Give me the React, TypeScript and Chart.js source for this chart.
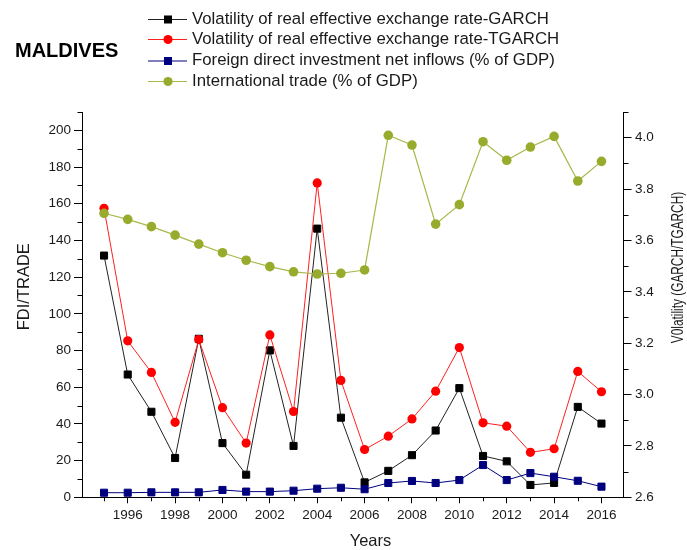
import React, { useEffect, useRef } from "react";
import { Chart, registerables } from "chart.js";

Chart.register(...registerables);

const years = [1995, 1996, 1997, 1998, 1999, 2000, 2001, 2002, 2003, 2004, 2005, 2006, 2007, 2008, 2009, 2010, 2011, 2012, 2013, 2014, 2015, 2016];
const garch = [3.541, 3.078, 2.933, 2.753, 3.217, 2.811, 2.688, 3.172, 2.8, 3.646, 2.91, 2.658, 2.703, 2.764, 2.86, 3.025, 2.761, 2.74, 2.648, 2.656, 2.952, 2.887];
const tgarch = [3.725, 3.209, 3.086, 2.892, 3.214, 2.949, 2.811, 3.232, 2.934, 3.824, 3.055, 2.786, 2.838, 2.905, 3.013, 3.183, 2.89, 2.877, 2.775, 2.789, 3.09, 3.011];
const fdi = [2.5, 2.5, 2.7, 2.7, 2.7, 4.0, 3.1, 3.1, 3.6, 4.7, 5.2, 4.4, 7.8, 8.9, 7.8, 9.4, 17.6, 9.4, 13.2, 11.2, 9.0, 5.8];
const trade = [154.8, 151.5, 147.5, 142.9, 138.0, 133.3, 129.2, 125.7, 122.9, 121.7, 122.1, 123.9, 197.3, 192.0, 148.9, 159.5, 193.8, 183.7, 190.9, 196.7, 172.4, 183.1];

const seriesNames = [
  "Volatility of real effective exchange rate-GARCH",
  "Volatility of real effective exchange rate-TGARCH",
  "Foreign direct investment net inflows (% of GDP)",
  "International trade (% of GDP)",
];
const titleText = "MALDIVES";
const xTitle = "Years";
const yLeftTitle = "FDI/TRADE";
const yRightTitle = "V0latility (GARCH/TGARCH)";

const FONT = '"Liberation Sans", Arial, sans-serif';
const TEXT = "#1a1a1a";

const styles = [
  { line: "#222222", point: "#000000", shape: "rect" },
  { line: "#ff2020", point: "#ff0000", shape: "circle" },
  { line: "#00007f", point: "#00007f", shape: "rect" },
  { line: "#a8b84a", point: "#98ab2c", shape: "circle" },
];

function drawMarker(ctx: CanvasRenderingContext2D, shape: string, x: number, y: number, color: string) {
  ctx.fillStyle = color;
  if (shape === "rect") {
    ctx.fillRect(x - 4, y - 4, 8, 8);
  } else {
    ctx.beginPath();
    ctx.arc(x, y, 4.6, 0, Math.PI * 2);
    ctx.fill();
  }
}

const decorPlugin = {
  id: "decor",
  afterDraw(chart: any) {
    const ctx: CanvasRenderingContext2D = chart.ctx;
    ctx.save();
    // minor ticks
    ctx.strokeStyle = "#000";
    ctx.lineWidth = 1;
    const sx = chart.scales.x;
    const sy = chart.scales.y;
    const sy1 = chart.scales.y1;
    sx.ticks.forEach((t: any) => {
      if (Math.round(t.value) % 2 !== 0) {
        const px = Math.round(sx.getPixelForValue(t.value)) + 0.5;
        ctx.beginPath();
        ctx.moveTo(px, sx.top);
        ctx.lineTo(px, sx.top + 4);
        ctx.stroke();
      }
    });
    sy.ticks.forEach((t: any) => {
      if (Math.round(t.value) % 20 !== 0) {
        const py = Math.round(sy.getPixelForValue(t.value)) + 0.5;
        ctx.beginPath();
        ctx.moveTo(sy.right, py);
        ctx.lineTo(sy.right - 4.5, py);
        ctx.stroke();
      }
    });
    sy1.ticks.forEach((t: any) => {
      if (Math.round(t.value * 10) % 2 !== 0) {
        const py = Math.round(sy1.getPixelForValue(t.value)) + 0.5;
        ctx.beginPath();
        ctx.moveTo(sy1.left, py);
        ctx.lineTo(sy1.left + 5, py);
        ctx.stroke();
      }
    });

    // title
    ctx.fillStyle = "#000";
    ctx.font = `bold 20px ${FONT}`;
    ctx.textAlign = "left";
    ctx.textBaseline = "alphabetic";
    ctx.fillText(titleText, 15, 57);

    // legend
    const rowsY = [19, 39, 60.5, 81];
    seriesNames.forEach((name, i) => {
      const y = rowsY[i];
      const st = styles[i];
      ctx.strokeStyle = st.line;
      ctx.lineWidth = 1;
      ctx.beginPath();
      ctx.moveTo(148, y + 0.5);
      ctx.lineTo(187, y + 0.5);
      ctx.stroke();
      drawMarker(ctx, st.shape, 168, y + 0.5, st.point);
      ctx.fillStyle = TEXT;
      ctx.font = `16.8px ${FONT}`;
      ctx.textAlign = "left";
      ctx.textBaseline = "middle";
      ctx.fillText(name, 192, y);
    });

    // axis titles
    ctx.fillStyle = TEXT;
    ctx.font = `16.5px ${FONT}`;
    ctx.textAlign = "center";
    ctx.textBaseline = "alphabetic";
    ctx.fillText(xTitle, 370.5, 546);

    ctx.save();
    ctx.translate(24.5, 286.7);
    ctx.rotate(-Math.PI / 2);
    ctx.textBaseline = "middle";
    ctx.fillText(yLeftTitle, 0, 0);
    ctx.restore();

    ctx.save();
    ctx.translate(678.5, 267.5);
    ctx.rotate(-Math.PI / 2);
    ctx.scale(0.74, 1);
    ctx.font = `16px ${FONT}`;
    ctx.textBaseline = "middle";
    ctx.fillText(yRightTitle, 0, 0);
    ctx.restore();

    ctx.restore();
  },
};

export default function App() {
  const ref = useRef<HTMLCanvasElement | null>(null);
  useEffect(() => {
    if (!ref.current) return;
    const mk = (vals: number[]) => years.map((x, i) => ({ x, y: vals[i] }));
    const tickFont = { family: FONT, size: 13.5 };
    const chart = new Chart(ref.current, {
      type: "line",
      data: {
        datasets: [
          {
            label: seriesNames[0], data: mk(garch), yAxisID: "y1", order: 4,
            borderColor: styles[0].line, borderWidth: 1, pointStyle: "rect", pointRadius: 5,
            pointBackgroundColor: styles[0].point, pointBorderColor: styles[0].point, pointBorderWidth: 1,
          },
          {
            label: seriesNames[1], data: mk(tgarch), yAxisID: "y1", order: 3,
            borderColor: styles[1].line, borderWidth: 1, pointStyle: "circle", pointRadius: 4.6,
            pointBackgroundColor: styles[1].point, pointBorderColor: styles[1].point, pointBorderWidth: 0,
          },
          {
            label: seriesNames[2], data: mk(fdi), yAxisID: "y", order: 2,
            borderColor: styles[2].line, borderWidth: 1, pointStyle: "rect", pointRadius: 5,
            pointBackgroundColor: styles[2].point, pointBorderColor: styles[2].point, pointBorderWidth: 1,
          },
          {
            label: seriesNames[3], data: mk(trade), yAxisID: "y", order: 1,
            borderColor: styles[3].line, borderWidth: 1.2, pointStyle: "circle", pointRadius: 4.8,
            pointBackgroundColor: styles[3].point, pointBorderColor: styles[3].point, pointBorderWidth: 0,
          },
        ],
      },
      options: {
        responsive: false,
        devicePixelRatio: 1,
        animation: false,
        events: [],
        layout: { padding: { top: 112, left: 0, right: 0, bottom: 0 } },
        plugins: { legend: { display: false }, title: { display: false }, tooltip: { enabled: false } },
        elements: { line: { tension: 0 } },
        scales: {
          x: {
            type: "linear",
            position: "bottom",
            min: 1994.07,
            max: 2016.93,
            afterFit: (s: any) => { s.height = 52.7; },
            border: { display: true, color: "#000", width: 1 },
            grid: {
              display: true, drawOnChartArea: false, tickLength: 6,
              tickColor: (c: any) => (Math.round(c.tick?.value ?? 0) % 2 === 0 ? "#000" : "rgba(0,0,0,0)"),
            },
            ticks: {
              stepSize: 1, autoSkip: false, includeBounds: false, maxRotation: 0, padding: 3.5,
              color: TEXT, font: tickFont,
              callback: (v: any) => (Math.round(v) % 2 === 0 ? String(Math.round(v)) : ""),
            },
          },
          y: {
            type: "linear",
            position: "left",
            min: 0,
            max: 210,
            afterFit: (s: any) => { s.width = 82; },
            border: { display: true, color: "#000", width: 1 },
            grid: {
              display: true, drawOnChartArea: false, tickLength: 8,
              tickColor: (c: any) => (Math.round(c.tick?.value ?? 0) % 20 === 0 ? "#000" : "rgba(0,0,0,0)"),
            },
            ticks: {
              stepSize: 10, autoSkip: false, includeBounds: false, padding: 3,
              color: TEXT, font: tickFont,
              callback: (v: any) => (Math.round(v) % 20 === 0 ? String(Math.round(v)) : ""),
            },
          },
          y1: {
            type: "linear",
            position: "right",
            min: 2.6,
            max: 4.1,
            afterFit: (s: any) => { s.width = 63.5; },
            border: { display: true, color: "#000", width: 1 },
            grid: {
              display: true, drawOnChartArea: false, tickLength: 8,
              tickColor: (c: any) => (Math.round((c.tick?.value ?? 0) * 10) % 2 === 0 ? "#000" : "rgba(0,0,0,0)"),
            },
            ticks: {
              stepSize: 0.1, autoSkip: false, includeBounds: false, padding: 3.5,
              color: TEXT, font: tickFont,
              callback: (v: any) => (Math.round(v * 10) % 2 === 0 ? Number(v).toFixed(1) : ""),
            },
          },
        },
      },
      plugins: [decorPlugin],
    } as any);
    return () => chart.destroy();
  }, []);
  return (
    <div style={{ position: "absolute", left: 0, top: 0, width: 687, height: 550, background: "#fff" }}>
      <canvas ref={ref} width={687} height={550} style={{ display: "block", width: 687, height: 550 }} />
    </div>
  );
}
